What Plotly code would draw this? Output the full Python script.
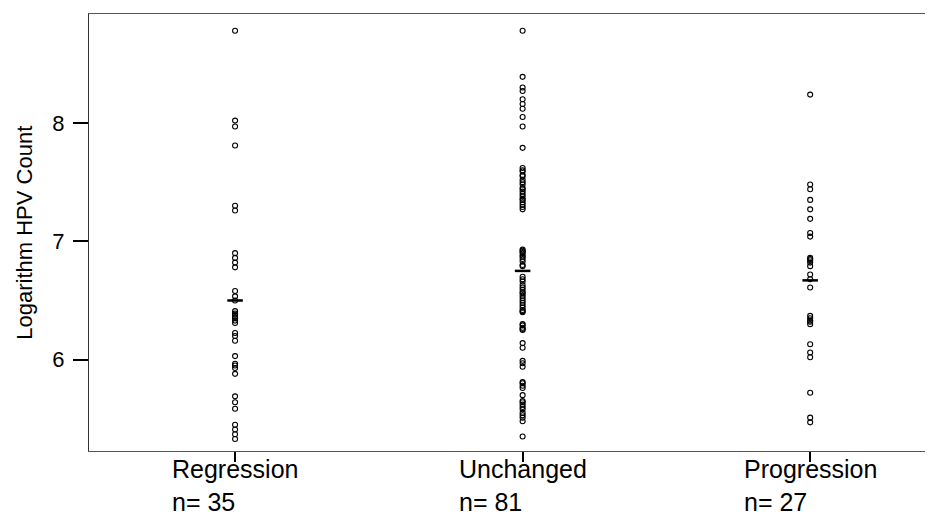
import plotly.graph_objects as go

categories = ["Regression", "Unchanged", "Progression"]

regression = [8.78, 8.02, 7.97, 7.81, 7.30, 7.26, 6.90, 6.86, 6.82, 6.78,
              6.58, 6.535, 6.50, 6.41, 6.39, 6.38, 6.36, 6.35, 6.33, 6.31,
              6.225, 6.20, 6.16, 6.03, 5.965, 5.95, 5.93, 5.88, 5.69, 5.64,
              5.585, 5.45, 5.41, 5.37, 5.33]

unchanged = [8.78, 8.39, 8.30, 8.27, 8.20, 8.16, 8.12, 8.05, 7.97, 7.79,
             7.62, 7.59, 7.55, 7.52, 7.48, 7.45, 7.42, 7.38, 7.35, 7.31, 7.27,
             6.93, 6.90, 6.87, 6.83, 6.79,
             6.70, 6.66, 6.63, 6.59, 6.56, 6.52, 6.48, 6.44, 6.41, 6.40,
             6.30, 6.27, 6.25, 6.14, 6.10, 5.99, 5.94, 5.81, 5.80, 5.76, 5.70,
             5.65, 5.62, 5.58, 5.55, 5.51, 5.48, 5.35,
             7.60, 7.50, 7.44, 7.40, 7.33, 7.29, 7.56, 7.36,
             6.92, 6.88, 6.85, 6.80, 6.91,
             6.68, 6.61, 6.54, 6.50, 6.46, 6.42, 6.57,
             6.29, 6.26, 5.64, 5.60, 5.53, 5.97, 5.78]

progression = [8.24, 7.48, 7.44, 7.35, 7.27, 7.19, 7.07, 7.04, 6.86, 6.84,
               6.82, 6.79, 6.72, 6.68, 6.61, 6.37, 6.35, 6.33, 6.30, 6.13,
               6.06, 6.02, 5.72, 5.51, 5.47, 6.85, 6.32]

center_lines = [6.50, 6.75, 6.67]

y_ticks = [6, 7, 8]

groups = [regression, unchanged, progression]

FONT = "Liberation Sans, Arial, sans-serif"

fig = go.Figure()

for i, vals in enumerate(groups):
    fig.add_trace(go.Scatter(
        x=[i] * len(vals), y=vals, mode="markers",
        marker=dict(symbol="circle-open", size=5, color="black",
                    line=dict(width=1.1, color="black")),
        showlegend=False, hoverinfo="y"))

half = 0.027
for i, m in enumerate(center_lines):
    fig.add_trace(go.Scatter(
        x=[i - half, i + half], y=[m, m], mode="lines",
        line=dict(color="black", width=2.5), showlegend=False, hoverinfo="skip"))

for i, (cat, vals) in enumerate(zip(categories, groups)):
    fig.add_annotation(
        x=i, xref="x", y=-0.080, yref="paper",
        text=f"{cat}<br>n= {len(vals)}", showarrow=False,
        align="left", xanchor="center", yanchor="middle",
        font=dict(family=FONT, size=25, color="black"))

fig.add_annotation(
    x=-0.076, xref="paper", y=0.5, yref="paper",
    text="Logarithm HPV Count", textangle=-90, showarrow=False,
    xanchor="center", yanchor="middle",
    font=dict(family=FONT, size=22, color="black"))

fig.update_layout(
    width=933, height=520,
    margin=dict(l=81, r=0, t=6, b=77),
    paper_bgcolor="white", plot_bgcolor="white",
    font=dict(family=FONT, color="black"),
    xaxis=dict(range=[-0.508, 2.455], tickvals=[0, 1, 2], ticktext=["", "", ""],
               showgrid=False, zeroline=False, showline=True, mirror=True,
               linecolor="#555", linewidth=1, ticks="outside", ticklen=10,
               tickwidth=2, tickcolor="black"),
    yaxis=dict(range=[5.228, 8.921], tickvals=y_ticks,
               ticktext=[str(t) for t in y_ticks],
               showgrid=False, zeroline=False, showline=True,
               linecolor="#333", linewidth=1, ticks="outside", ticklen=15,
               tickwidth=1.5, tickcolor="black", ticklabelstandoff=4,
               tickfont=dict(size=22, family=FONT)),
)

fig.write_html("out.html")
